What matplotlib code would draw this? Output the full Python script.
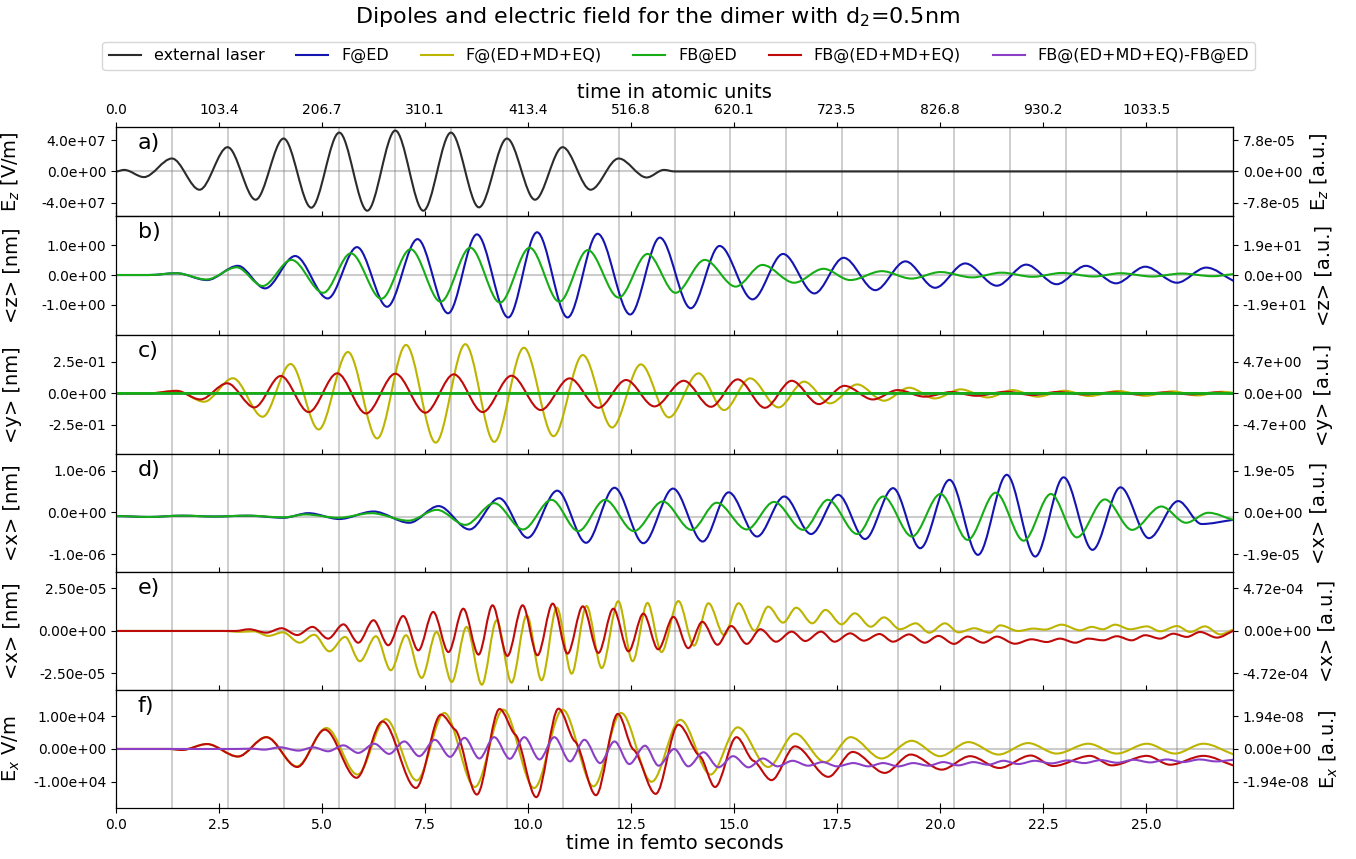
import numpy as np
import matplotlib
matplotlib.use("Agg")
import matplotlib.pyplot as plt
from matplotlib.path import Path
from matplotlib.patches import PathPatch
from matplotlib.lines import Line2D
from matplotlib.ticker import FormatStrFormatter

# time axis (fs) and laser maxima used as vertical guide lines
t_end = 27.11
laser_peaks = [1.36, 2.71, 4.07, 5.42, 6.78, 8.13, 9.49, 10.84, 12.20, 13.56,
               14.91, 16.27, 17.62, 18.98, 20.33, 21.69, 23.05, 24.40, 25.76]
fs_ticks = [0.0, 2.5, 5.0, 7.5, 10.0, 12.5, 15.0, 17.5, 20.0, 22.5, 25.0]
au_labels = ["0.0", "103.4", "206.7", "310.1", "413.4", "516.8", "620.1",
             "723.5", "826.8", "930.2", "1033.5"]

# a) external laser, units 1e7 V/m (extrema read off the picture)
t_laser = [0.0, 0.2, 0.68, 1.36, 2.03, 2.71, 3.39, 4.07, 4.74, 5.42, 6.10, 6.78, 7.46,
           8.13, 8.81, 9.49, 10.17, 10.84, 11.52, 12.20, 12.88, 13.3, 13.56, 27.11]
ez_laser = [0.0, 0.2, -0.72, 1.66, -2.34, 3.11, -3.62, 4.22, -4.64, 4.98, -5.03, 5.24, -5.03,
            4.98, -4.60, 4.22, -3.62, 3.11, -2.34, 1.66, -0.77, 0.2, 0.0, 0.0]

# b) <z> in nm
t_z_f = [0.0, 0.8, 1.47, 2.21, 2.96, 3.62, 4.35, 5.14, 5.85, 6.58, 7.32, 8.06, 8.76, 9.52,
         10.22, 10.96, 11.69, 12.48, 13.2, 13.95, 14.65, 15.45, 16.19, 16.95, 17.66, 18.43,
         19.16, 19.88, 20.61, 21.38, 22.09, 22.83, 23.54, 24.27, 24.98, 25.75, 26.46, 27.11]
z_f = [0.0, 0.0, 0.06, -0.17, 0.31, -0.45, 0.64, -0.79, 0.94, -1.07, 1.21, -1.29, 1.37, -1.43,
       1.44, -1.43, 1.39, -1.33, 1.26, -1.12, 0.98, -0.82, 0.71, -0.62, 0.58, -0.51,
       0.46, -0.43, 0.39, -0.36, 0.35, -0.31, 0.31, -0.28, 0.28, -0.26, 0.25, -0.19]
t_z_fb = [0.0, 0.8, 1.47, 2.2, 2.93, 3.56, 4.26, 5.03, 5.7, 6.44, 7.15, 7.88, 8.6, 9.32,
          10.04, 10.76, 11.45, 12.2, 12.9, 13.58, 14.29, 15.04, 15.69, 16.46, 17.17, 17.82,
          18.59, 19.3, 20.01, 20.78, 21.49, 22.25, 22.96, 23.73, 24.38, 25.15, 25.86, 26.62, 27.11]
z_fb = [0.0, 0.0, 0.06, -0.15, 0.26, -0.37, 0.51, -0.6, 0.73, -0.8, 0.87, -0.9, 0.92, -0.93,
        0.92, -0.9, 0.84, -0.76, 0.71, -0.6, 0.51, -0.39, 0.34, -0.26, 0.21, -0.17,
        0.13, -0.12, 0.1, -0.08, 0.08, -0.06, 0.07, -0.05, 0.06, -0.05, 0.05, -0.04, 0.03]

# c) <y> in nm
t_y_fm = [0.0, 0.8, 1.47, 2.14, 2.84, 3.56, 4.24, 4.92, 5.63, 6.34, 7.04, 7.76, 8.48, 9.18,
          9.9, 10.62, 11.33, 12.04, 12.74, 13.42, 14.14, 14.76, 15.39, 16.08, 16.7, 17.33,
          17.99, 18.64, 19.25, 19.87, 20.5, 21.16, 21.76, 22.36, 23.02, 23.62, 24.33, 24.98,
          25.64, 26.24, 26.84, 27.11]
y_fm = [0.0, 0.0, 0.02, -0.066, 0.12, -0.185, 0.233, -0.286, 0.328, -0.357, 0.384, -0.39,
        0.39, -0.384, 0.362, -0.339, 0.304, -0.27, 0.23, -0.19, 0.159, -0.132, 0.119, -0.111,
        0.093, -0.079, 0.071, -0.058, 0.045, -0.04, 0.032, -0.032, 0.026, -0.026, 0.021,
        -0.021, 0.019, -0.019, 0.016, -0.016, 0.013, 0.005]
t_y_fbm = [0.0, 0.8, 1.47, 2.05, 2.7, 3.36, 4.0, 4.68, 5.37, 6.07, 6.78, 7.51, 8.2, 8.9, 9.6,
           10.31, 11.01, 11.71, 12.38, 13.07, 13.78, 14.44, 15.09, 15.75, 16.4, 17.06, 17.68,
           18.37, 18.97, 19.63, 20.28, 20.88, 21.6, 22.25, 22.85, 23.5, 24.22, 24.82, 25.47,
           26.08, 26.73, 27.11]
y_fbm = [0.0, 0.0, 0.02, -0.048, 0.08, -0.111, 0.138, -0.148, 0.159, -0.159, 0.156, -0.153,
         0.151, -0.148, 0.14, -0.132, 0.119, -0.114, 0.106, -0.103, 0.1, -0.106, 0.111, -0.114,
         0.1, -0.085, 0.06, -0.048, 0.026, -0.026, 0.011, -0.019, 0.013, -0.013, 0.011, -0.008,
         0.008, -0.008, 0.008, -0.008, 0.008, -0.005]
t_y_zero = [0.0, 27.11]
y_zero = [0.0, 0.0]

# d) <x> in 1e-6 nm (ED only)
t_x_f = [0.0, 0.8, 1.6, 2.4, 3.2, 4.07, 4.67, 5.42, 6.25, 7.12, 7.83, 8.58, 9.3, 9.99, 10.71,
         11.41, 12.1, 12.8, 13.52, 14.24, 14.87, 15.56, 16.22, 16.87, 17.53, 18.18, 18.86,
         19.52, 20.23, 20.92, 21.62, 22.31, 23.0, 23.7, 24.38, 25.07, 25.78, 26.35, 27.11]
x_f = [-0.09, -0.11, -0.08, -0.1, -0.08, -0.13, -0.02, -0.16, 0.02, -0.25, 0.15, -0.41, 0.34,
       -0.61, 0.52, -0.73, 0.59, -0.74, 0.57, -0.7, 0.48, -0.58, 0.38, -0.52, 0.42, -0.64,
       0.58, -0.86, 0.78, -1.02, 0.9, -1.06, 0.84, -0.9, 0.6, -0.62, 0.27, -0.28, -0.18]
t_x_fb = [0.0, 0.8, 1.6, 2.4, 3.2, 4.07, 4.6, 5.4, 6.2, 7.1, 7.79, 8.48, 9.18, 9.88, 10.57,
          11.22, 11.87, 12.57, 13.27, 13.97, 14.58, 15.31, 15.97, 16.68, 17.28, 17.99, 18.62,
          19.32, 20.01, 20.67, 21.35, 22.03, 22.69, 23.32, 24.0, 24.66, 25.37, 25.97, 26.51, 27.11]
x_fb = [-0.09, -0.11, -0.08, -0.1, -0.08, -0.12, -0.05, -0.13, -0.02, -0.2, 0.06, -0.3, 0.22,
        -0.41, 0.3, -0.45, 0.3, -0.45, 0.26, -0.42, 0.23, -0.41, 0.25, -0.42, 0.3, -0.52,
        0.38, -0.58, 0.44, -0.66, 0.47, -0.68, 0.44, -0.6, 0.31, -0.42, 0.14, -0.25, -0.01, -0.18]
d_baseline = -0.1

# e) <x> in 1e-5 nm (ED+MD+EQ)
t_xm_f = [0.0, 2.6, 3.0, 3.35, 3.7, 4.05, 4.46, 4.81, 5.18, 5.56, 5.92, 6.31, 6.67, 7.04, 7.42,
          7.78, 8.15, 8.51, 8.88, 9.24, 9.6, 9.97, 10.33, 10.7, 11.06, 11.42, 11.79, 12.19,
          12.54, 12.9, 13.24, 13.65, 14.03, 14.38, 14.76, 15.11, 15.5, 15.83, 16.19, 16.51,
          16.9, 17.22, 17.61, 17.93, 18.32, 18.64, 19.03, 19.41, 19.74, 20.12, 20.45, 20.83,
          21.21, 21.46, 21.9, 22.26, 22.55, 22.95, 23.4, 23.68, 23.95, 24.25, 24.61, 25.02,
          25.34, 25.75, 26.07, 26.43, 26.8, 27.11]
xm_f = [0.0, 0.0, -0.05, -0.02, -0.29, -0.08, -0.69, -0.22, -1.2, -0.35, -1.78, -0.31, -2.31,
        -0.25, -2.76, -0.06, -3.0, 0.24, -3.16, 0.63, -3.04, 0.92, -2.9, 1.37, -2.51, 1.47,
        -2.18, 1.75, -1.78, 1.65, -1.24, 1.76, -0.86, 1.63, -0.24, 1.63, 0.02, 1.43, 0.49,
        1.37, 0.45, 1.24, 0.39, 1.04, 0.25, 0.8, 0.1, 0.45, -0.1, 0.45, -0.08, 0.16, -0.1,
        0.33, 0.0, 0.14, 0.08, 0.37, 0.04, 0.24, 0.1, 0.37, 0.1, 0.27, -0.02, 0.29, -0.06,
        0.27, -0.2, 0.08]
t_xm_fb = [0.0, 2.5, 2.9, 3.23, 3.65, 4.02, 4.4, 4.77, 5.15, 5.52, 5.88, 6.25, 6.61, 6.97,
           7.34, 7.7, 8.07, 8.43, 8.8, 9.14, 9.5, 9.87, 10.23, 10.6, 10.96, 11.33, 11.71,
           12.07, 12.44, 12.8, 13.16, 13.53, 13.89, 14.23, 14.6, 14.93, 15.31, 15.64, 16.02,
           16.4, 16.73, 17.11, 17.44, 17.82, 18.15, 18.53, 18.86, 19.25, 19.63, 19.96, 20.34,
           20.67, 21.05, 21.38, 21.82, 22.22, 22.59, 22.91, 23.28, 23.6, 23.96, 24.29, 24.65,
           24.98, 25.34, 25.66, 25.99, 26.31, 26.72, 27.11]
xm_fb = [0.0, 0.0, 0.0, 0.1, -0.1, 0.16, -0.24, 0.24, -0.45, 0.39, -0.69, 0.63, -0.84, 0.88,
         -1.14, 1.12, -1.24, 1.31, -1.39, 1.51, -1.47, 1.51, -1.43, 1.61, -1.33, 1.45, -1.29,
         1.31, -1.2, 1.02, -1.08, 0.83, -1.01, 0.54, -0.81, 0.29, -0.76, 0.1, -0.63, -0.04,
         -0.59, -0.04, -0.63, -0.14, -0.57, -0.18, -0.63, -0.2, -0.69, -0.29, -0.76, -0.33,
         -0.69, -0.33, -0.75, -0.49, -0.65, -0.45, -0.69, -0.45, -0.55, -0.31, -0.55, -0.25,
         -0.45, -0.16, -0.35, -0.06, -0.39, 0.0]

# f) E_x in 1e4 V/m
t_ex_fm = [0.0, 1.3, 1.6, 2.21, 2.96, 3.65, 4.39, 5.11, 5.86, 6.55, 7.3, 7.97, 8.71, 9.4,
           10.15, 10.84, 11.59, 12.26, 13.0, 13.7, 14.43, 15.09, 15.83, 16.48, 17.21, 17.83,
           18.58, 19.31, 20.0, 20.69, 21.42, 22.14, 22.83, 23.6, 24.29, 25.02, 25.7, 26.39, 27.11]
ex_fm = [0.0, 0.0, -0.03, 0.15, -0.23, 0.36, -0.53, 0.64, -0.78, 0.91, -0.96, 1.1, -1.16, 1.2,
         -1.19, 1.2, -1.14, 1.1, -1.0, 0.89, -0.78, 0.66, -0.55, 0.47, -0.4, 0.36, -0.29, 0.25,
         -0.22, 0.21, -0.17, 0.18, -0.14, 0.16, -0.14, 0.16, -0.14, 0.16, -0.16]
t_ex_fbm = [0.0, 1.3, 1.6, 2.21, 2.96, 3.65, 4.4, 5.07, 5.84, 6.47, 7.28, 7.89, 8.23, 8.76,
            9.31, 9.69, 10.2, 10.74, 11.14, 11.65, 12.18, 12.56, 13.1, 13.65, 14.17, 14.54,
            15.06, 15.47, 15.91, 16.48, 17.29, 17.88, 18.66, 19.29, 20.04, 20.73, 21.44, 22.2,
            22.75, 23.64, 24.17, 25.02, 25.58, 26.39, 27.11]
ex_fbm = [0.0, 0.0, -0.03, 0.15, -0.23, 0.36, -0.55, 0.59, -0.88, 0.84, -1.19, 1.05, 0.59,
          -1.39, 1.22, 0.44, -1.47, 1.23, 0.23, -1.41, 1.07, -0.02, -1.37, 0.74, -0.22, -1.16,
          0.36, -0.36, -0.95, 0.08, -0.85, -0.09, -0.73, -0.17, -0.63, -0.22, -0.58, -0.2,
          -0.52, -0.21, -0.5, -0.21, -0.48, -0.21, -0.5]
t_ex_diff = [0.0, 2.9, 3.3, 3.6, 3.98, 4.43, 4.79, 5.15, 5.52, 5.88, 6.27, 6.63, 7.0, 7.36,
             7.74, 8.11, 8.46, 8.82, 9.18, 9.56, 9.91, 10.28, 10.64, 11.02, 11.37, 11.75, 12.1,
             12.46, 12.84, 13.17, 13.55, 13.89, 14.26, 14.62, 14.98, 15.35, 15.7, 16.06, 16.42,
             16.8, 17.15, 17.5, 17.9, 18.26, 18.62, 18.99, 19.35, 19.72, 20.08, 20.44, 20.81,
             21.17, 21.54, 21.9, 22.3, 22.7, 23.1, 23.5, 23.9, 24.3, 24.7, 25.1, 25.5, 25.9,
             26.3, 26.7, 27.11]
ex_diff = [0.0, 0.0, 0.01, -0.02, 0.05, -0.05, 0.05, -0.07, 0.11, -0.12, 0.16, -0.15, 0.23,
           -0.22, 0.28, -0.24, 0.34, -0.29, 0.36, -0.3, 0.36, -0.32, 0.36, -0.38, 0.28, -0.43,
           0.23, -0.46, 0.1, -0.51, 0.0, -0.53, -0.1, -0.56, -0.22, -0.56, -0.29, -0.53, -0.36,
           -0.51, -0.4, -0.53, -0.43, -0.53, -0.43, -0.53, -0.43, -0.51, -0.4, -0.5, -0.4,
           -0.48, -0.36, -0.46, -0.36, -0.44, -0.35, -0.43, -0.34, -0.42, -0.33, -0.41, -0.32,
           -0.4, -0.32, -0.38, -0.33]

# ticks: left tick value (real units) and matching labels on the a.u. side
left_ticks = [4.0e7, 1.0, 0.25, 1.0e-6, 2.5e-5, 1.0e4]
left_fmt = ["%.1e", "%.1e", "%.1e", "%.1e", "%.2e", "%.2e"]
right_ticks = [["-7.8e-05", "0.0e+00", "7.8e-05"],
               ["-1.9e+01", "0.0e+00", "1.9e+01"],
               ["-4.7e+00", "0.0e+00", "4.7e+00"],
               ["-1.9e-05", "0.0e+00", "1.9e-05"],
               ["-4.72e-04", "0.00e+00", "4.72e-04"],
               ["-1.94e-08", "0.00e+00", "1.94e-08"]]
left_labels = ["E$_z$ [V/m]", "<z> [nm]", "<y> [nm]", "<x> [nm]", "<x> [nm]", "E$_x$ V/m"]
right_labels = ["E$_z$ [a.u.]", "<z> [a.u.]", "<y> [a.u.]", "<x> [a.u.]", "<x> [a.u.]",
                "E$_x$ [a.u.]"]
panel_tags = ["a)", "b)", "c)", "d)", "e)", "f)"]
ylims = [(-5.7e7, 5.7e7), (-2.02, 1.99), (-0.48, 0.463), (-1.43e-6, 1.40e-6),
         (-3.47e-5, 3.47e-5), (-1.8e4, 1.8e4)]

c_laser = "#2b2b2b"
c_f = "#1414b0"
c_fm = "#bdb400"
c_fb = "#16ad16"
c_fbm = "#bf0a0a"
c_diff = "#8b3fc6"


def curve(ax, t, v, scale, color, shoulder=0.3, lw=1.5, z=3):
    # smooth bezier path through the extrema
    t = np.asarray(t, float)
    v = np.asarray(v, float) * scale
    n = len(t)
    m = np.zeros(n)
    for i in range(1, n - 1):
        if (v[i] - v[i - 1]) * (v[i + 1] - v[i]) > 0:
            m[i] = shoulder * (v[i + 1] - v[i - 1]) / (t[i + 1] - t[i - 1])
    m[-1] = (v[-1] - v[-2]) / (t[-1] - t[-2])
    verts = [(t[0], v[0])]
    codes = [Path.MOVETO]
    for i in range(n - 1):
        dt = t[i + 1] - t[i]
        verts += [(t[i] + dt / 3, v[i] + m[i] * dt / 3),
                  (t[i + 1] - dt / 3, v[i + 1] - m[i + 1] * dt / 3),
                  (t[i + 1], v[i + 1])]
        codes += [Path.CURVE4] * 3
    ax.add_patch(PathPatch(Path(verts, codes), fill=False, edgecolor=color, lw=lw,
                           zorder=z, joinstyle="round", capstyle="round"))


fig = plt.figure(figsize=(13.56, 8.59), dpi=100)
gs = fig.add_gridspec(6, 1, height_ratios=[89, 119, 119, 118, 118, 118], hspace=0,
                      left=0.0855, right=0.9093, bottom=0.0594, top=0.8522)
axs = [fig.add_subplot(gs[i]) for i in range(6)]

baselines = [0.0, 0.0, 0.0, d_baseline * 1e-6, 0.0, 0.0]

for i, ax in enumerate(axs):
    ax.set_xlim(0, t_end)
    ax.set_ylim(*ylims[i])
    for tp in laser_peaks:
        ax.axvline(tp, color="gray", alpha=0.45, lw=1.2, zorder=1)
    ax.axhline(baselines[i], color="gray", alpha=0.4, lw=1.5, zorder=1)
    lt = left_ticks[i]
    ax.set_yticks([-lt, 0, lt])
    ax.yaxis.set_major_formatter(FormatStrFormatter(left_fmt[i]))
    ax.set_xticks(fs_ticks)
    ax.tick_params(axis="both", labelsize=10)
    ax.tick_params(axis="x", direction="inout", length=7)
    if i < 5:
        ax.tick_params(labelbottom=False)
    ax.set_ylabel(left_labels[i], fontsize=14, labelpad=8)
    ax.annotate(panel_tags[i], xy=(0, 1), xycoords="axes fraction", xytext=(22, -16),
                textcoords="offset pixels", fontsize=16, va="center", ha="left")
    r = ax.twinx()
    r.set_ylim(*ylims[i])
    r.set_yticks([-lt, 0, lt])
    r.set_yticklabels(right_ticks[i])
    r.tick_params(labelsize=10)
    r.set_ylabel(right_labels[i], fontsize=14, labelpad=5)

axs[5].xaxis.set_major_formatter(FormatStrFormatter("%.1f"))
axs[5].set_xlabel("time in femto seconds", fontsize=14, labelpad=2)

top = axs[0].twiny()
top.set_xlim(0, t_end)
top.set_xticks(fs_ticks)
top.set_xticklabels(au_labels)
top.tick_params(labelsize=10)
top.set_xlabel("time in atomic units", fontsize=14, labelpad=4)

# a)
curve(axs[0], t_laser, ez_laser, 1e7, c_laser)
# b)
curve(axs[1], t_z_f, z_f, 1.0, c_f)
curve(axs[1], t_z_fb, z_fb, 1.0, c_fb)
# c)
curve(axs[2], t_y_fm, y_fm, 1.0, c_fm)
curve(axs[2], t_y_fbm, y_fbm, 1.0, c_fbm)
curve(axs[2], t_y_zero, y_zero, 1.0, c_f)
curve(axs[2], t_y_zero, y_zero, 1.0, c_fb, lw=2.0)
# d)
curve(axs[3], t_x_f, x_f, 1e-6, c_f)
curve(axs[3], t_x_fb, x_fb, 1e-6, c_fb)
# e)
curve(axs[4], t_xm_f, xm_f, 1e-5, c_fm)
curve(axs[4], t_xm_fb, xm_fb, 1e-5, c_fbm)
# f)
curve(axs[5], t_ex_fm, ex_fm, 1e4, c_fm)
curve(axs[5], t_ex_fbm, ex_fbm, 1e4, c_fbm)
curve(axs[5], t_ex_diff, ex_diff, 1e4, c_diff)

fig.align_ylabels(axs)

handles = [Line2D([], [], color=c, lw=1.5) for c in [c_laser, c_f, c_fm, c_fb, c_fbm, c_diff]]
labels = ["external laser", "F@ED", "F@(ED+MD+EQ)", "FB@ED", "FB@(ED+MD+EQ)",
          "FB@(ED+MD+EQ)-FB@ED"]
fig.legend(handles, labels, loc="center", bbox_to_anchor=(0.5007, 0.935), ncol=6,
           fontsize=11.5, columnspacing=2.0, handlelength=2.0)

fig.text(0.4848, 0.980, "Dipoles and electric field for the dimer with d$_2$=0.5nm",
         ha="center", va="center", fontsize=16)

fig.savefig("out.png", dpi=100)
